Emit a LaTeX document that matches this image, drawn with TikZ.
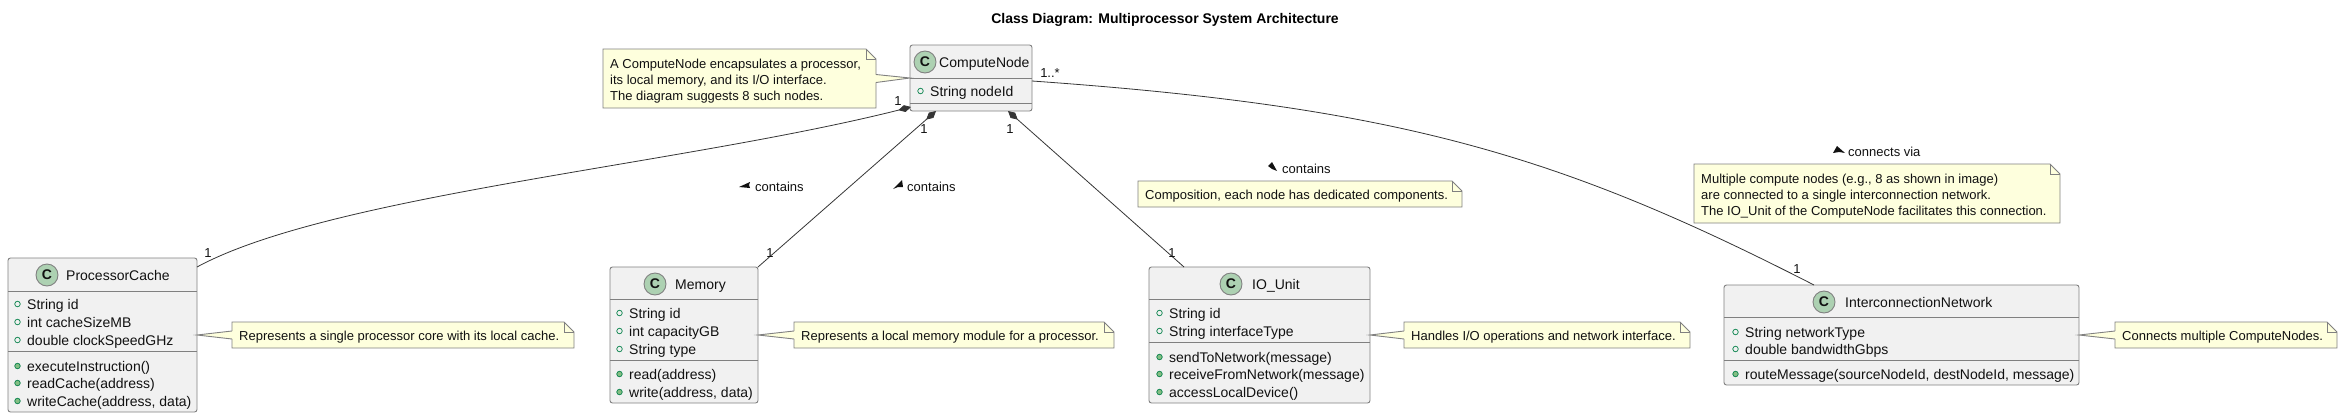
\documentclass[tikz,border=0pt]{standalone}
\usepackage{fontspec}
\setmainfont{Liberation Sans}
\usetikzlibrary{arrows.meta, calc}
\definecolor{inkblack}{HTML}{111111}
\definecolor{edgegray}{HTML}{808080}
\definecolor{boxfill}{HTML}{F1F1F1}
\definecolor{notefill}{HTML}{FEFFDD}
\definecolor{badgegreen}{HTML}{ADD1B2}
\definecolor{markgreen}{HTML}{038048}
\definecolor{markfill}{HTML}{84BE84}

\tikzset{
  classbody/.style={draw=edgegray, fill=boxfill, rounded corners=2.5pt, line width=0.9pt,
    anchor=north west, inner sep=0pt, outer sep=0pt},
  classrule/.style={draw=edgegray, line width=0.9pt},
  classbadge/.style={circle, draw=edgegray, fill=badgegreen, line width=0.9pt, minimum size=22pt,
    inner sep=0pt, text=inkblack, font=\fontsize{14}{16}\selectfont\bfseries},
  classname/.style={anchor=west, inner sep=0pt, text height=13pt, text depth=2pt, text=inkblack,
    font=\fontsize{14}{16}\selectfont},
  membertext/.style={classname},
  fieldmark/.style={circle, draw=markgreen, fill=boxfill, line width=0.7pt, minimum size=5.5pt, inner sep=0pt},
  methodmark/.style={circle, draw=markgreen, fill=markfill, line width=0.7pt, minimum size=5.5pt, inner sep=0pt},
  notebody/.style={draw=edgegray, fill=notefill, line width=0.9pt},
  notearea/.style={anchor=north west, inner sep=0pt, outer sep=0pt},
  notetext/.style={anchor=west, inner sep=0pt, align=left, text=inkblack,
    font=\fontsize{13}{16}\selectfont},
  linklabel/.style={anchor=west, inner sep=0pt, text height=10pt, text depth=2pt, text=inkblack,
    font=\fontsize{13}{15}\selectfont},
  countlabel/.style={inner sep=0pt, text=inkblack, font=\fontsize{13}{15}\selectfont},
  linkline/.style={draw=inkblack!85, line width=0.8pt},
  partof/.style={linkline, {Diamond[length=13pt, width=7pt]}-},
}

% one row per member: id, marker style, text x, y/text list
\newcommand{\memberrows}[4]{%
  \foreach \yy/\txt [count=\i] in {#4} {
    \node[#2] (#1Mark\i) at (#3-9.5,\yy) {};
    \node[membertext] (#1Row\i) at (#3,\yy) {\txt};
  }
}

% name, left, top, width, height, text
\newcommand{\notebox}[6]{%
  \path[notebody] (#2,#3) -- (#2+#4-10,#3) -- (#2+#4,#3+10) -- (#2+#4,#3+#5) -- (#2,#3+#5) -- cycle;
  \draw[notebody, fill=none] (#2+#4-10,#3) -- (#2+#4-10,#3+10) -- (#2+#4,#3+10);
  \node[notearea, minimum width=#4pt, minimum height=#5pt] (#1) at (#2,#3) {};
  \node[notetext] (#1Text) at ($(#1.west)+(7,2.5)$) {#6};
}

% note, its side, sign towards the note, class anchor
\newcommand{\notelink}[4]{%
  \fill[notefill] ($(#1.#2)+(#3*1.2,-4)$) -- (#4) -- ($(#1.#2)+(#3*1.2,4)$) -- cycle;
  \draw[notebody, fill=none] ($(#1.#2)+(0,-4)$) -- (#4) -- ($(#1.#2)+(0,4)$);
}

\begin{document}
\begin{tikzpicture}[x=1pt, y=-1pt]
\useasboundingbox (0,0) rectangle (2342,418);

% Title
\node[inner sep=0pt, text=black, font=\fontsize{14}{16}\selectfont\bfseries] (title) at (1165,20)
  {Class Diagram: Multiprocessor System Architecture};

% --- ComputeNode ---
\node[classbody, minimum width=122pt, minimum height=66pt] (compute) at (910,45) {};
\draw[classrule] (910,78) -- (1032,78);
\draw[classrule] (910,103) -- (1032,103);
\node[classbadge] (computeBadge) at (925,62) {C};
\node[classname] (computeName) at (939,62) {ComputeNode};
\memberrows{computeField}{fieldmark}{930}{91/String nodeId}

% --- ProcessorCache ---
\node[classbody, minimum width=189pt, minimum height=154pt] (cache) at (8,258) {};
\draw[classrule] (8,291) -- (197,291);
\draw[classrule] (8,351) -- (197,351);
\node[classbadge] (cacheBadge) at (47,275) {C};
\node[classname] (cacheName) at (66,275) {ProcessorCache};
\memberrows{cacheField}{fieldmark}{27}{304/String id, 322/int cacheSizeMB, 340/double clockSpeedGHz}
\memberrows{cacheMethod}{methodmark}{27}{366/executeInstruction(), 383/readCache(address), 401/{writeCache(address, data)}}

% --- Memory ---
\node[classbody, minimum width=148pt, minimum height=136pt] (memory) at (610,267) {};
\draw[classrule] (610,299) -- (758,299);
\draw[classrule] (610,360) -- (758,360);
\node[classbadge] (memoryBadge) at (655,284) {C};
\node[classname] (memoryName) at (675,284) {Memory};
\memberrows{memoryField}{fieldmark}{629}{313/String id, 331/int capacityGB, 349/String type}
\memberrows{memoryMethod}{methodmark}{629}{374/read(address), 392/{write(address, data)}}

% --- IO_Unit ---
\node[classbody, minimum width=221pt, minimum height=136pt] (iounit) at (1149,267) {};
\draw[classrule] (1149,299) -- (1370,299);
\draw[classrule] (1149,342) -- (1370,342);
\node[classbadge] (iounitBadge) at (1231,284) {C};
\node[classname] (iounitName) at (1252,284) {IO\_Unit};
\memberrows{iounitField}{fieldmark}{1169}{313/String id, 331/String interfaceType}
\memberrows{iounitMethod}{methodmark}{1169}{357/sendToNetwork(message), 374/receiveFromNetwork(message), 392/accessLocalDevice()}

% --- InterconnectionNetwork ---
\node[classbody, minimum width=355pt, minimum height=100pt] (network) at (1724,285) {};
\draw[classrule] (1724,317) -- (2079,317);
\draw[classrule] (1724,360) -- (2079,360);
\node[classbadge] (networkBadge) at (1824,302) {C};
\node[classname] (networkName) at (1845,302) {InterconnectionNetwork};
\memberrows{networkField}{fieldmark}{1745}{332/String networkType, 349/double bandwidthGbps}
\memberrows{networkMethod}{methodmark}{1745}{374/{routeMessage(sourceNodeId, destNodeId, message)}}

% --- Notes ---
\notebox{computeNote}{603}{49}{273}{59}{A ComputeNode encapsulates a processor,\\its local memory, and its I/O interface.\\The diagram suggests 8 such nodes.}
\notelink{computeNote}{east}{-1}{compute.west}
\notebox{cacheNote}{232}{322}{342}{26}{Represents a single processor core with its local cache.}
\notelink{cacheNote}{west}{1}{cache.east}
\notebox{memoryNote}{794}{322}{320}{26}{Represents a local memory module for a processor.}
\notelink{memoryNote}{west}{1}{memory.east}
\notebox{iounitNote}{1404}{322}{286}{26}{Handles I/O operations and network interface.}
\notelink{iounitNote}{west}{1}{iounit.east}
\notebox{networkNote}{2115}{322}{222}{26}{Connects multiple ComputeNodes.}
\notelink{networkNote}{west}{1}{network.east}
\notebox{partsNote}{1138}{181}{324}{26}{Composition, each node has dedicated components.}
\notebox{viaNote}{1694}{164}{366}{59}{Multiple compute nodes (e.g., 8 as shown in image)\\are connected to a single interconnection network.\\The IO\_Unit of the ComputeNode facilitates this connection.}

% --- Links ---
\coordinate (computeCache) at ($(compute.south west)+(1,-4)$);
\coordinate (computeMemory) at ($(compute.south west)+(26,0)$);
\coordinate (computeIo) at ($(compute.south east)+(-24,0)$);
\coordinate (computeNet) at ($(compute.east)+(0,3)$);
\draw[partof] (computeCache) .. controls (680,165) and (330,195) .. ($(cache.north east)+(0,9)$);
\draw[partof] (computeMemory) -- (memory.north east);
\draw[partof] (computeIo) -- ($(iounit.north west)+(35,0)$);
\draw[linkline] (computeNet) .. controls (1400,107) and (1560,155) .. ($(network.north west)+(90,0)$);

% --- Link labels ---
\node[linklabel] (cacheLabel) at (755,187) {contains};
\fill[inkblack] (739,187) -- (750,182) -- (749,185) -- (750,188) -- cycle;
\node[linklabel] (memoryLabel) at (907,187) {contains};
\fill[inkblack] (902,180) -- (893,189) -- (898,187) -- (903,187) -- cycle;
\node[linklabel] (iounitLabel) at (1282,169) {contains};
\fill[inkblack] (1268,166) -- (1272,162) -- (1277,171) -- (1272,169) -- cycle;
\node[linklabel] (networkLabel) at (1848,152) {connects via};
\fill[inkblack] (1833,153) -- (1837,146) -- (1845,153) -- (1839,152) -- cycle;

% --- Multiplicities ---
\node[countlabel] (countCacheTop) at (898,101) {1};
\node[countlabel] (countMemoryTop) at (924,129) {1};
\node[countlabel] (countIoTop) at (1010,129) {1};
\node[countlabel] (countNetTop) at (1050,73) {1..*};
\node[countlabel] (countCache) at (208,253) {1};
\node[countlabel] (countMemory) at (770,253) {1};
\node[countlabel] (countIo) at (1172,253) {1};
\node[countlabel] (countNet) at (1797,269) {1};

\end{tikzpicture}
\end{document}
